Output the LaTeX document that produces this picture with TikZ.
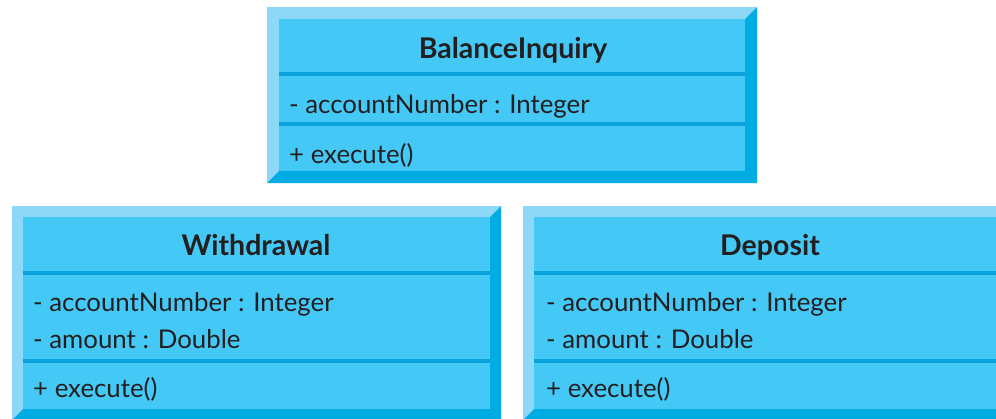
\documentclass[tikz,border=0pt]{standalone}
\usepackage{fontspec}
\setmainfont{Lato}
\definecolor{boxfill}{HTML}{44C8F5}
\definecolor{bevlight}{HTML}{8ED8F7}
\definecolor{bevdark}{HTML}{00ACE2}
\definecolor{divline}{HTML}{0BA2DC}
\definecolor{ink}{HTML}{231F20}
\newcommand\bevelbox[5]{%
  \fill[bevlight] (#1,#2) -- (#3,#2) -- (#3-#5,#2+#5) -- (#1+#5,#2+#5) -- (#1+#5,#4-#5) -- (#1,#4) -- cycle;
  \fill[bevdark] (#3,#2) -- (#3,#4) -- (#1,#4) -- (#1+#5,#4-#5) -- (#3-#5,#4-#5) -- (#3-#5,#2+#5) -- cycle;
  \fill[boxfill] (#1+#5,#2+#5) rectangle (#3-#5,#4-#5);
}
\begin{document}
\begin{tikzpicture}[x=1pt,y=-1pt,
  title/.style={anchor=base,inner sep=0pt,text=ink,font=\fontsize{28.5}{31}\selectfont\bfseries},
  attr/.style={anchor=base west,inner sep=0pt,text=ink,font=\fontsize{25.8}{28}\selectfont}]
\useasboundingbox (0,0) rectangle (996,418);
\clip (0,0) rectangle (996,418);
% BalanceInquiry
\bevelbox{267}{7}{757}{183}{12}
\fill[divline] (279,72) rectangle (745,76);
\fill[divline] (279,122) rectangle (745,125.5);
\node[title] (bi) at (513,58) {BalanceInquiry};
\node[attr] (bia) at (289,113) {- accountNumber : Integer};
\node[attr] (bio) at (289,163) {+ execute()};
% Withdrawal
\bevelbox{12}{206}{501}{420}{11}
\fill[divline] (23,271) rectangle (490,274.5);
\fill[divline] (23,359) rectangle (490,362.5);
\node[title] (wd) at (256,255) {Withdrawal};
\node[attr] (wda) at (33,311) {- accountNumber : Integer};
\node[attr] (wdb) at (33,348) {- amount : Double};
\node[attr] (wdo) at (33,397) {+ execute()};
% Deposit
\bevelbox{523}{206}{1012}{420}{11}
\fill[divline] (534,271) rectangle (1001,274.5);
\fill[divline] (534,359) rectangle (1001,362.5);
\node[title] (dp) at (770,255) {Deposit};
\node[attr] (dpa) at (546,311) {- accountNumber : Integer};
\node[attr] (dpb) at (546,348) {- amount : Double};
\node[attr] (dpo) at (546,397) {+ execute()};
\end{tikzpicture}
\end{document}
